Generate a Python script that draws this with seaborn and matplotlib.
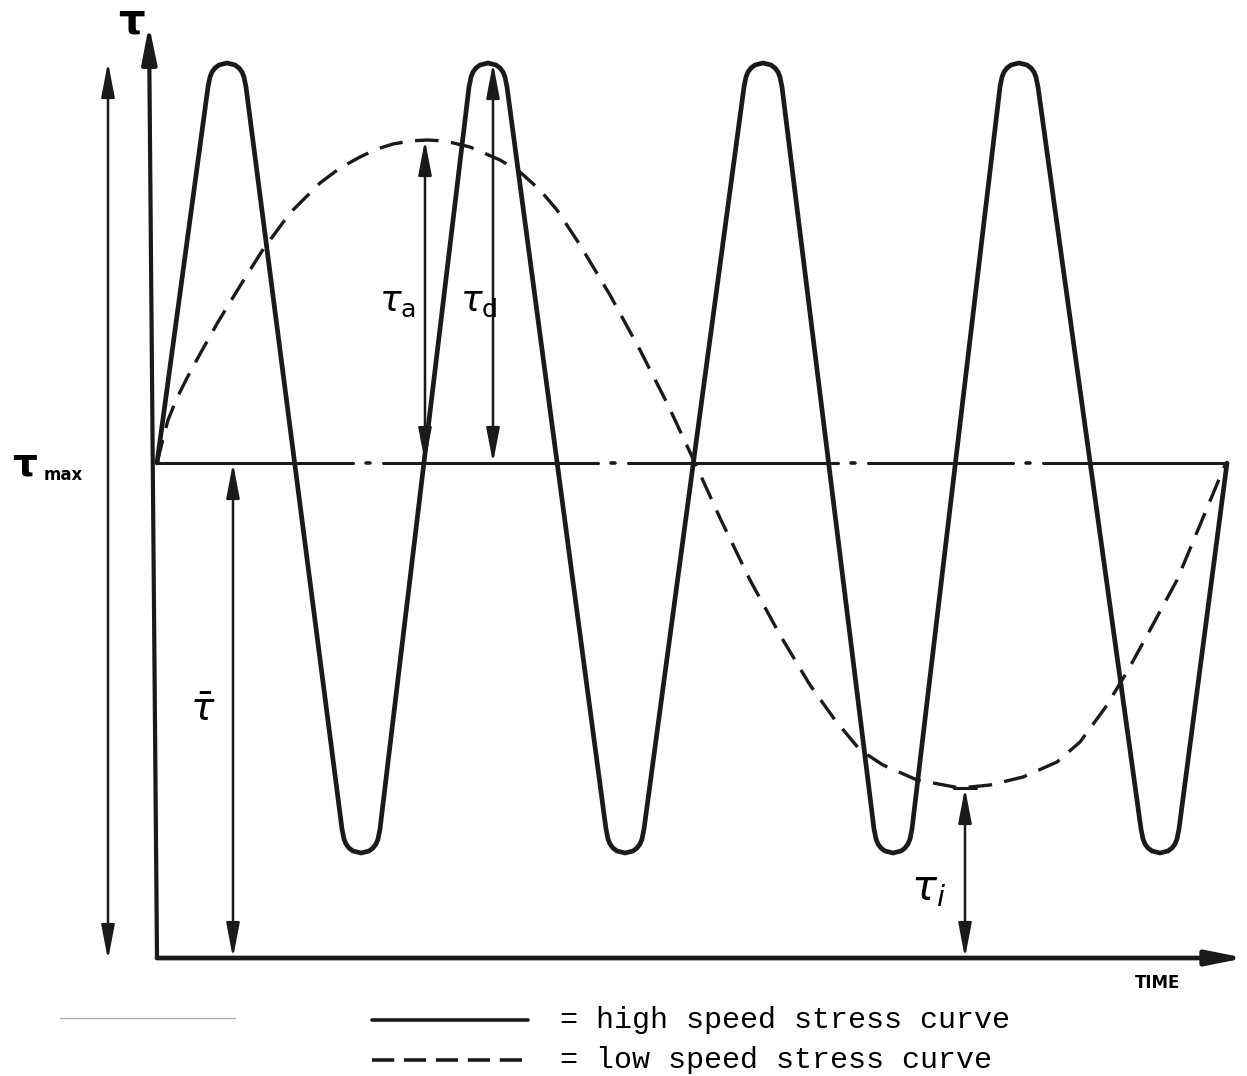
import seaborn as sns
import pandas as pd
from matplotlib import pyplot as plt

# time / stress units: origin at the lower-left corner of the axes
# high speed curve: tip positions and levels
hs_peak_t = [70, 331, 606, 862]
hs_trough_t = [204, 468, 736, 1003]
hs_peak_s = 895
hs_trough_s = 105
hs_start = (0, 495)
hs_end = (1070, 495)
# shape of a rounded tip (offset in time, depth from the tip)
tip_dt = [-19, -17, -15, -12, -8, 0, 8, 12, 15, 17, 19]
tip_depth = [24, 14, 9, 5, 2, 0, 2, 5, 9, 14, 24]

# low speed curve, read point by point
ls_t = [0, 5, 11, 20, 30, 43, 61, 83, 105, 133, 163, 183, 203, 220, 236, 253,
        270, 288, 313, 343, 363, 383, 400, 423, 453, 483, 511, 538, 563, 593,
        623, 653, 678, 703, 726, 760, 803, 833, 866, 900, 923, 948, 970, 993,
        1020, 1043, 1068]
ls_s = [495, 515, 538, 560, 580, 604, 636, 672, 707, 745, 775, 790, 801, 809,
        814, 817, 818, 817, 811, 798, 786, 768, 748, 713, 663, 608, 553, 495,
        440, 378, 323, 273, 238, 208, 193, 178, 170, 173, 181, 196, 216, 250,
        286, 328, 378, 433, 493]

mean_s = 495
mean_end = 1070
mean_dots = [211, 456, 696, 871]

# dimension arrows: time, from, to
dims = {
    'tau_max': (-49, -2, 896),
    'tau_bar': (76, 0, 495),
    'tau_a': (268, 495, 818),
    'tau_d': (336, 495, 895),
    'tau_i': (808, 0, 170),
}

legend_labels = ['= high speed stress curve', '= low speed stress curve']


def high_speed_curve():
    t, s = [hs_start[0]], [hs_start[1]]
    tips = sorted([(c, 1) for c in hs_peak_t] + [(c, -1) for c in hs_trough_t])
    for c, sign in tips:
        level = hs_peak_s if sign > 0 else hs_trough_s
        for dt, dd in zip(tip_dt, tip_depth):
            t.append(c + dt)
            s.append(level - sign * dd)
    t.append(hs_end[0])
    s.append(hs_end[1])
    return pd.DataFrame({'t': t, 's': s})


def arrow(ax, start, end, style, lw):
    ax.annotate('', xy=end, xytext=start,
                arrowprops=dict(arrowstyle=style, mutation_scale=50, lw=lw,
                                color='k', shrinkA=0, shrinkB=0))


sns.set_theme(style='white')
plt.rcParams['font.family'] = ['DejaVu Sans']
plt.rcParams['text.color'] = 'black'
plt.rcParams['lines.scale_dashes'] = False

fig = plt.figure(figsize=(12.47, 10.76), dpi=100)
ax = fig.add_axes([0, 0, 1, 1])
ax.set_xlim(-157, 1090)
ax.set_ylim(-118, 958)
ax.axis('off')

# curves
hs = high_speed_curve()
sns.lineplot(data=hs, x='t', y='s', sort=False, estimator=None, color='k',
             lw=3.4, ax=ax)
ls = pd.DataFrame({'t': ls_t, 's': ls_s})
sns.lineplot(data=ls, x='t', y='s', sort=False, estimator=None, color='k',
             lw=2.4, dashes=False, ax=ax)
ax.lines[-1].set_dashes([17, 9])
ax.lines[-1].set_solid_capstyle('butt')

# mean line, solid with dots
edges = [0]
for d in mean_dots:
    edges += [d - 15, d + 15]
edges.append(mean_end)
for a, b in zip(edges[::2], edges[1::2]):
    ax.plot([a, b], [mean_s, mean_s], color='k', lw=2.2)
for d in mean_dots:
    ax.plot([d - 2, d + 2], [mean_s, mean_s], color='k', lw=2.6)

# axes with arrows
head = '-|>,head_length=0.45,head_width=0.09'
arrow(ax, (0, 0), (-8, 933), head, 3.0)
arrow(ax, (0, 0), (1088, 0), head, 3.4)

# dimension arrows
dbl = '<|-|>,head_length=0.42,head_width=0.08'
for key, (t, s0, s1) in dims.items():
    arrow(ax, (t, s0), (t, s1), dbl, 1.8)
t_i, _, s_i = dims['tau_i']
ax.plot([t_i - 11, t_i + 11], [s_i, s_i], color='k', lw=2.2)

# labels
ax.text(-26, 936, '\u03c4', fontsize=30, fontweight='bold', ha='center', va='center')
ax.text(-132, 493, '\u03c4', fontsize=28, fontweight='bold', ha='center', va='center')
ax.text(-94, 483, 'max', fontsize=12, fontweight='bold', ha='center', va='center')
ax.text(240, 656, r'$\tau_{\mathregular{a}}$', fontsize=26, ha='center', va='center')
ax.text(322, 656, r'$\tau_{\mathregular{d}}$', fontsize=26, ha='center', va='center')
ax.text(46, 248, r'$\bar{\tau}$', fontsize=28, ha='center', va='center')
ax.text(772, 70, r'$\tau_{i}$', fontsize=30, ha='center', va='center')
ax.text(1001, -25, 'TIME', fontsize=12, fontweight='bold', ha='center', va='center')

# legend
ax.plot([-97, 78], [-60, -60], color='#aaaaaa', lw=1.0)
ax.plot([215, 371], [-62, -62], color='k', lw=2.6)
ax.plot([215, 371], [-102, -102], color='k', lw=2.6, dashes=[16, 7])
ax.text(403, -62, legend_labels[0], fontsize=21.6, family='Liberation Mono',
        ha='left', va='center')
ax.text(403, -102, legend_labels[1], fontsize=21.6, family='Liberation Mono',
        ha='left', va='center')

fig.savefig('out.png', dpi=100, facecolor='white')
